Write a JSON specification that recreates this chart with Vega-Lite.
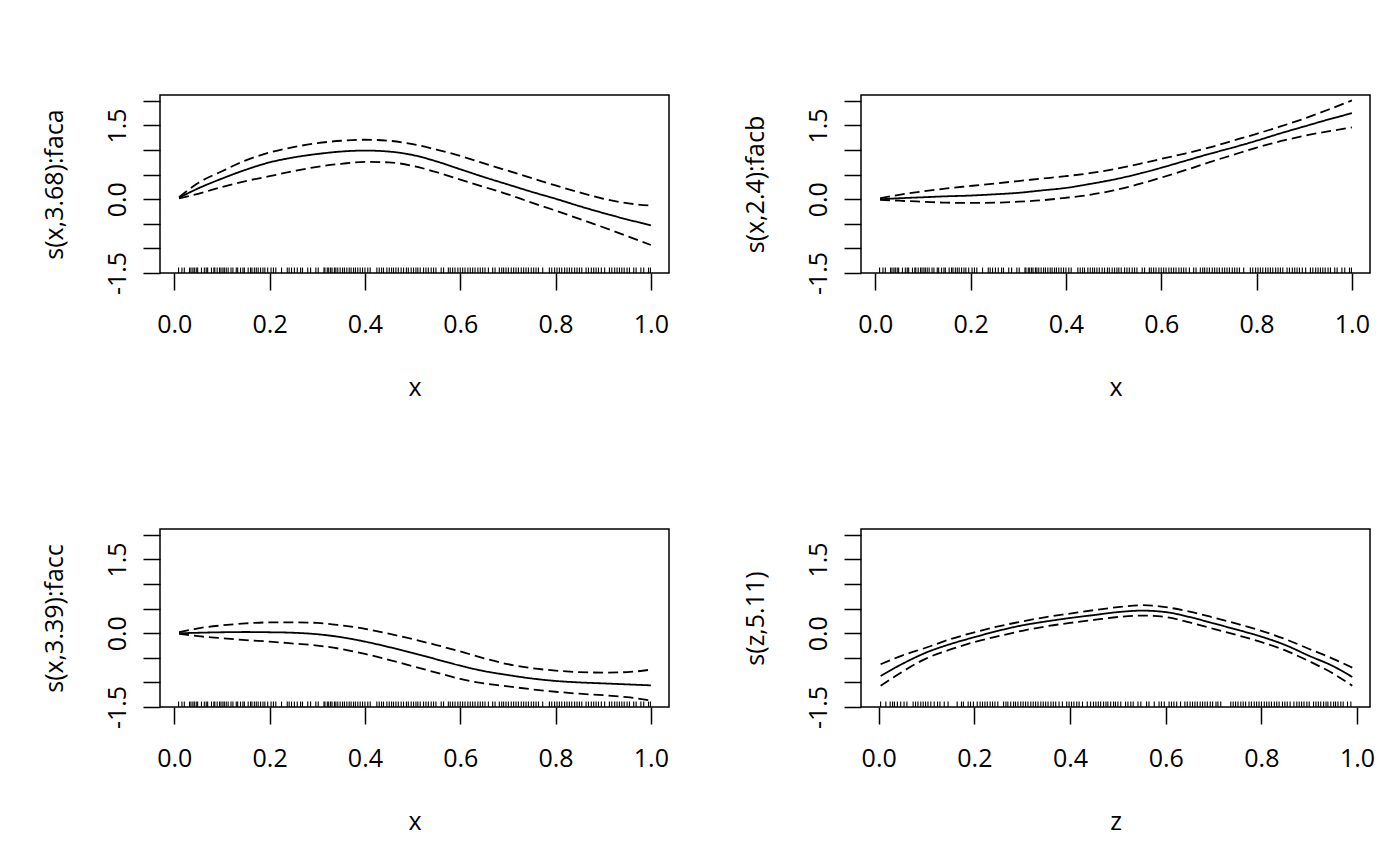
{
  "$schema": "https://vega.github.io/schema/vega-lite/v6.json",
  "padding": {"left": 41, "top": 94, "right": 0, "bottom": 0},
  "background": "white",
  "datasets": {
    "curves": [
      {"p": "a", "x": 0.01, "fit": 0.03, "upper": 0.04, "lower": 0.02},
      {"p": "a", "x": 0.05, "fit": 0.22, "upper": 0.33, "lower": 0.11},
      {"p": "a", "x": 0.1, "fit": 0.42, "upper": 0.57, "lower": 0.25},
      {"p": "a", "x": 0.15, "fit": 0.6, "upper": 0.79, "lower": 0.37},
      {"p": "a", "x": 0.2, "fit": 0.75, "upper": 0.95, "lower": 0.47},
      {"p": "a", "x": 0.25, "fit": 0.85, "upper": 1.06, "lower": 0.57},
      {"p": "a", "x": 0.3, "fit": 0.92, "upper": 1.14, "lower": 0.66},
      {"p": "a", "x": 0.35, "fit": 0.97, "upper": 1.19, "lower": 0.72},
      {"p": "a", "x": 0.4, "fit": 0.99, "upper": 1.21, "lower": 0.76},
      {"p": "a", "x": 0.45, "fit": 0.97, "upper": 1.19, "lower": 0.75},
      {"p": "a", "x": 0.5, "fit": 0.9, "upper": 1.12, "lower": 0.68},
      {"p": "a", "x": 0.55, "fit": 0.77, "upper": 1.01, "lower": 0.55},
      {"p": "a", "x": 0.6, "fit": 0.61, "upper": 0.88, "lower": 0.4},
      {"p": "a", "x": 0.65, "fit": 0.45, "upper": 0.73, "lower": 0.25},
      {"p": "a", "x": 0.7, "fit": 0.3, "upper": 0.58, "lower": 0.1},
      {"p": "a", "x": 0.75, "fit": 0.15, "upper": 0.43, "lower": -0.07},
      {"p": "a", "x": 0.8, "fit": 0.01, "upper": 0.28, "lower": -0.23},
      {"p": "a", "x": 0.85, "fit": -0.14, "upper": 0.14, "lower": -0.4},
      {"p": "a", "x": 0.9, "fit": -0.28, "upper": 0.01, "lower": -0.57},
      {"p": "a", "x": 0.95, "fit": -0.41, "upper": -0.08, "lower": -0.75},
      {"p": "a", "x": 1.0, "fit": -0.53, "upper": -0.13, "lower": -0.93},
      {"p": "b", "x": 0.01, "fit": 0.0, "upper": 0.02, "lower": -0.01},
      {"p": "b", "x": 0.05, "fit": 0.02, "upper": 0.09, "lower": -0.03},
      {"p": "b", "x": 0.1, "fit": 0.04, "upper": 0.16, "lower": -0.05},
      {"p": "b", "x": 0.15, "fit": 0.06, "upper": 0.22, "lower": -0.07},
      {"p": "b", "x": 0.2, "fit": 0.075, "upper": 0.27, "lower": -0.075},
      {"p": "b", "x": 0.25, "fit": 0.1, "upper": 0.32, "lower": -0.07},
      {"p": "b", "x": 0.3, "fit": 0.13, "upper": 0.37, "lower": -0.05},
      {"p": "b", "x": 0.35, "fit": 0.18, "upper": 0.42, "lower": -0.02},
      {"p": "b", "x": 0.4, "fit": 0.23, "upper": 0.47, "lower": 0.03},
      {"p": "b", "x": 0.45, "fit": 0.31, "upper": 0.53, "lower": 0.09},
      {"p": "b", "x": 0.5, "fit": 0.4, "upper": 0.61, "lower": 0.18},
      {"p": "b", "x": 0.55, "fit": 0.51, "upper": 0.71, "lower": 0.3},
      {"p": "b", "x": 0.6, "fit": 0.64, "upper": 0.82, "lower": 0.44},
      {"p": "b", "x": 0.65, "fit": 0.78, "upper": 0.93, "lower": 0.59},
      {"p": "b", "x": 0.7, "fit": 0.92, "upper": 1.05, "lower": 0.75},
      {"p": "b", "x": 0.75, "fit": 1.05, "upper": 1.19, "lower": 0.9},
      {"p": "b", "x": 0.8, "fit": 1.19, "upper": 1.33, "lower": 1.05},
      {"p": "b", "x": 0.85, "fit": 1.34, "upper": 1.48, "lower": 1.18},
      {"p": "b", "x": 0.9, "fit": 1.48, "upper": 1.64, "lower": 1.29},
      {"p": "b", "x": 0.95, "fit": 1.62, "upper": 1.82, "lower": 1.38},
      {"p": "b", "x": 1.0, "fit": 1.75, "upper": 2.01, "lower": 1.46},
      {"p": "c", "x": 0.01, "fit": 0.0, "upper": 0.02, "lower": -0.01},
      {"p": "c", "x": 0.05, "fit": 0.01, "upper": 0.1, "lower": -0.06},
      {"p": "c", "x": 0.1, "fit": 0.02, "upper": 0.16, "lower": -0.1},
      {"p": "c", "x": 0.15, "fit": 0.025, "upper": 0.2, "lower": -0.14},
      {"p": "c", "x": 0.2, "fit": 0.02, "upper": 0.22, "lower": -0.17},
      {"p": "c", "x": 0.25, "fit": 0.01, "upper": 0.22, "lower": -0.21},
      {"p": "c", "x": 0.3, "fit": -0.02, "upper": 0.21, "lower": -0.25},
      {"p": "c", "x": 0.35, "fit": -0.08, "upper": 0.16, "lower": -0.32},
      {"p": "c", "x": 0.4, "fit": -0.17, "upper": 0.09, "lower": -0.42},
      {"p": "c", "x": 0.45, "fit": -0.28, "upper": -0.01, "lower": -0.54},
      {"p": "c", "x": 0.5, "fit": -0.4, "upper": -0.12, "lower": -0.67},
      {"p": "c", "x": 0.55, "fit": -0.53, "upper": -0.24, "lower": -0.8},
      {"p": "c", "x": 0.6, "fit": -0.66, "upper": -0.37, "lower": -0.93},
      {"p": "c", "x": 0.65, "fit": -0.77, "upper": -0.51, "lower": -1.02},
      {"p": "c", "x": 0.7, "fit": -0.85, "upper": -0.63, "lower": -1.08},
      {"p": "c", "x": 0.75, "fit": -0.92, "upper": -0.71, "lower": -1.14},
      {"p": "c", "x": 0.8, "fit": -0.97, "upper": -0.76, "lower": -1.19},
      {"p": "c", "x": 0.85, "fit": -1.0, "upper": -0.79, "lower": -1.23},
      {"p": "c", "x": 0.9, "fit": -1.02, "upper": -0.8, "lower": -1.26},
      {"p": "c", "x": 0.95, "fit": -1.04, "upper": -0.79, "lower": -1.3},
      {"p": "c", "x": 1.0, "fit": -1.06, "upper": -0.74, "lower": -1.37},
      {"p": "d", "x": 0.004, "fit": -0.87, "upper": -0.63, "lower": -1.07},
      {"p": "d", "x": 0.05, "fit": -0.62, "upper": -0.45, "lower": -0.78},
      {"p": "d", "x": 0.1, "fit": -0.39, "upper": -0.29, "lower": -0.51},
      {"p": "d", "x": 0.15, "fit": -0.22, "upper": -0.12, "lower": -0.33},
      {"p": "d", "x": 0.2, "fit": -0.08, "upper": 0.02, "lower": -0.18},
      {"p": "d", "x": 0.25, "fit": 0.05, "upper": 0.14, "lower": -0.06},
      {"p": "d", "x": 0.3, "fit": 0.16, "upper": 0.24, "lower": 0.05},
      {"p": "d", "x": 0.35, "fit": 0.24, "upper": 0.33, "lower": 0.14},
      {"p": "d", "x": 0.4, "fit": 0.31, "upper": 0.4, "lower": 0.21},
      {"p": "d", "x": 0.45, "fit": 0.37, "upper": 0.47, "lower": 0.27},
      {"p": "d", "x": 0.5, "fit": 0.43, "upper": 0.53, "lower": 0.33},
      {"p": "d", "x": 0.55, "fit": 0.46, "upper": 0.57, "lower": 0.36},
      {"p": "d", "x": 0.6, "fit": 0.43, "upper": 0.53, "lower": 0.33},
      {"p": "d", "x": 0.65, "fit": 0.33, "upper": 0.44, "lower": 0.22},
      {"p": "d", "x": 0.7, "fit": 0.2, "upper": 0.32, "lower": 0.09},
      {"p": "d", "x": 0.75, "fit": 0.07, "upper": 0.19, "lower": -0.04},
      {"p": "d", "x": 0.8, "fit": -0.07, "upper": 0.05, "lower": -0.18},
      {"p": "d", "x": 0.85, "fit": -0.24, "upper": -0.12, "lower": -0.35},
      {"p": "d", "x": 0.9, "fit": -0.46, "upper": -0.32, "lower": -0.57},
      {"p": "d", "x": 0.95, "fit": -0.67, "upper": -0.52, "lower": -0.82},
      {"p": "d", "x": 0.99, "fit": -0.89, "upper": -0.7, "lower": -1.07}
    ],
    "rugx": [
      {"x": 0.009}, {"x": 0.016}, {"x": 0.021}, {"x": 0.032}, {"x": 0.035}, {"x": 0.039}, {"x": 0.042}, {"x": 0.046}, {"x": 0.049}, {"x": 0.057},
      {"x": 0.063}, {"x": 0.067}, {"x": 0.07}, {"x": 0.078}, {"x": 0.083}, {"x": 0.085}, {"x": 0.09}, {"x": 0.095}, {"x": 0.098}, {"x": 0.102},
      {"x": 0.105}, {"x": 0.109}, {"x": 0.113}, {"x": 0.119}, {"x": 0.123}, {"x": 0.13}, {"x": 0.133}, {"x": 0.139}, {"x": 0.144}, {"x": 0.147},
      {"x": 0.155}, {"x": 0.16}, {"x": 0.163}, {"x": 0.168}, {"x": 0.172}, {"x": 0.176}, {"x": 0.181}, {"x": 0.186}, {"x": 0.19}, {"x": 0.196},
      {"x": 0.203}, {"x": 0.208}, {"x": 0.213}, {"x": 0.225}, {"x": 0.237}, {"x": 0.241}, {"x": 0.246}, {"x": 0.252}, {"x": 0.258}, {"x": 0.265},
      {"x": 0.269}, {"x": 0.28}, {"x": 0.286}, {"x": 0.297}, {"x": 0.302}, {"x": 0.314}, {"x": 0.316}, {"x": 0.321}, {"x": 0.324}, {"x": 0.328},
      {"x": 0.331}, {"x": 0.336}, {"x": 0.339}, {"x": 0.343}, {"x": 0.348}, {"x": 0.353}, {"x": 0.357}, {"x": 0.362}, {"x": 0.367}, {"x": 0.371},
      {"x": 0.376}, {"x": 0.38}, {"x": 0.385}, {"x": 0.39}, {"x": 0.395}, {"x": 0.4}, {"x": 0.406}, {"x": 0.411}, {"x": 0.425}, {"x": 0.43},
      {"x": 0.435}, {"x": 0.439}, {"x": 0.446}, {"x": 0.451}, {"x": 0.456}, {"x": 0.46}, {"x": 0.465}, {"x": 0.47}, {"x": 0.476}, {"x": 0.481},
      {"x": 0.487}, {"x": 0.491}, {"x": 0.497}, {"x": 0.502}, {"x": 0.507}, {"x": 0.511}, {"x": 0.516}, {"x": 0.523}, {"x": 0.528}, {"x": 0.533},
      {"x": 0.539}, {"x": 0.544}, {"x": 0.549}, {"x": 0.56}, {"x": 0.565}, {"x": 0.575}, {"x": 0.579}, {"x": 0.584}, {"x": 0.589}, {"x": 0.595},
      {"x": 0.6}, {"x": 0.605}, {"x": 0.61}, {"x": 0.616}, {"x": 0.621}, {"x": 0.626}, {"x": 0.631}, {"x": 0.637}, {"x": 0.642}, {"x": 0.647},
      {"x": 0.652}, {"x": 0.659}, {"x": 0.668}, {"x": 0.673}, {"x": 0.682}, {"x": 0.687}, {"x": 0.691}, {"x": 0.696}, {"x": 0.701}, {"x": 0.707},
      {"x": 0.712}, {"x": 0.717}, {"x": 0.722}, {"x": 0.728}, {"x": 0.733}, {"x": 0.738}, {"x": 0.743}, {"x": 0.749}, {"x": 0.754}, {"x": 0.759},
      {"x": 0.764}, {"x": 0.773}, {"x": 0.787}, {"x": 0.792}, {"x": 0.798}, {"x": 0.803}, {"x": 0.808}, {"x": 0.813}, {"x": 0.819}, {"x": 0.824},
      {"x": 0.829}, {"x": 0.834}, {"x": 0.84}, {"x": 0.845}, {"x": 0.85}, {"x": 0.855}, {"x": 0.864}, {"x": 0.869}, {"x": 0.875}, {"x": 0.88},
      {"x": 0.885}, {"x": 0.89}, {"x": 0.896}, {"x": 0.903}, {"x": 0.913}, {"x": 0.918}, {"x": 0.924}, {"x": 0.929}, {"x": 0.934}, {"x": 0.939},
      {"x": 0.944}, {"x": 0.95}, {"x": 0.955}, {"x": 0.964}, {"x": 0.969}, {"x": 0.979}, {"x": 0.985}, {"x": 0.995}, {"x": 0.999}
    ],
    "rugz": [
      {"z": 0.004}, {"z": 0.015}, {"z": 0.024}, {"z": 0.029}, {"z": 0.033}, {"z": 0.039}, {"z": 0.046}, {"z": 0.053}, {"z": 0.059}, {"z": 0.072},
      {"z": 0.077}, {"z": 0.082}, {"z": 0.088}, {"z": 0.093}, {"z": 0.098}, {"z": 0.103}, {"z": 0.109}, {"z": 0.116}, {"z": 0.123}, {"z": 0.128},
      {"z": 0.137}, {"z": 0.145}, {"z": 0.164}, {"z": 0.173}, {"z": 0.177}, {"z": 0.187}, {"z": 0.192}, {"z": 0.198}, {"z": 0.206}, {"z": 0.212},
      {"z": 0.217}, {"z": 0.222}, {"z": 0.227}, {"z": 0.233}, {"z": 0.238}, {"z": 0.243}, {"z": 0.249}, {"z": 0.261}, {"z": 0.266}, {"z": 0.27},
      {"z": 0.276}, {"z": 0.282}, {"z": 0.286}, {"z": 0.291}, {"z": 0.297}, {"z": 0.302}, {"z": 0.307}, {"z": 0.312}, {"z": 0.318}, {"z": 0.323},
      {"z": 0.328}, {"z": 0.333}, {"z": 0.339}, {"z": 0.344}, {"z": 0.349}, {"z": 0.354}, {"z": 0.36}, {"z": 0.365}, {"z": 0.37}, {"z": 0.377},
      {"z": 0.384}, {"z": 0.393}, {"z": 0.398}, {"z": 0.403}, {"z": 0.408}, {"z": 0.414}, {"z": 0.419}, {"z": 0.426}, {"z": 0.436}, {"z": 0.443},
      {"z": 0.449}, {"z": 0.454}, {"z": 0.459}, {"z": 0.464}, {"z": 0.47}, {"z": 0.475}, {"z": 0.479}, {"z": 0.485}, {"z": 0.491}, {"z": 0.495},
      {"z": 0.5}, {"z": 0.506}, {"z": 0.516}, {"z": 0.521}, {"z": 0.527}, {"z": 0.532}, {"z": 0.542}, {"z": 0.548}, {"z": 0.56}, {"z": 0.565},
      {"z": 0.576}, {"z": 0.586}, {"z": 0.591}, {"z": 0.597}, {"z": 0.607}, {"z": 0.612}, {"z": 0.617}, {"z": 0.623}, {"z": 0.631}, {"z": 0.64},
      {"z": 0.645}, {"z": 0.651}, {"z": 0.656}, {"z": 0.661}, {"z": 0.666}, {"z": 0.672}, {"z": 0.677}, {"z": 0.682}, {"z": 0.687}, {"z": 0.693},
      {"z": 0.698}, {"z": 0.705}, {"z": 0.709}, {"z": 0.715}, {"z": 0.736}, {"z": 0.741}, {"z": 0.746}, {"z": 0.751}, {"z": 0.757}, {"z": 0.762},
      {"z": 0.767}, {"z": 0.774}, {"z": 0.779}, {"z": 0.785}, {"z": 0.79}, {"z": 0.795}, {"z": 0.8}, {"z": 0.806}, {"z": 0.811}, {"z": 0.816},
      {"z": 0.821}, {"z": 0.827}, {"z": 0.832}, {"z": 0.837}, {"z": 0.844}, {"z": 0.849}, {"z": 0.854}, {"z": 0.86}, {"z": 0.868}, {"z": 0.874},
      {"z": 0.879}, {"z": 0.884}, {"z": 0.889}, {"z": 0.895}, {"z": 0.9}, {"z": 0.909}, {"z": 0.914}, {"z": 0.919}, {"z": 0.924}, {"z": 0.93},
      {"z": 0.935}, {"z": 0.939}, {"z": 0.945}, {"z": 0.951}, {"z": 0.955}, {"z": 0.96}, {"z": 0.966}, {"z": 0.971}, {"z": 0.98}, {"z": 0.987}
    ]
  },
  "columns": 2,
  "bounds": "flush",
  "spacing": {"row": 256, "column": 192},
  "concat": [
    {
      "width": 509,
      "height": 178,
      "layer": [
        {
          "data": {"name": "curves"},
          "transform": [
            {"filter": "datum.p == 'a'"},
            {"fold": ["fit", "upper", "lower"], "as": ["series", "value"]}
          ],
          "mark": {"type": "line", "color": "black", "strokeWidth": 1.8, "interpolate": "monotone"},
          "encoding": {
            "x": {"field": "x", "type": "quantitative", "scale": {"domain": [-0.03, 1.038], "nice": false, "zero": false},
                  "axis": {"title": "x", "values": [0, 0.2, 0.4, 0.6, 0.8, 1], "tickCount": 20, "format": ".1f"}},
            "y": {"field": "value", "type": "quantitative", "scale": {"domain": [-1.5, 2.12], "nice": false, "zero": false},
                  "axis": {"title": "s(x,3.68):faca", "values": [-1.5, -1, -0.5, 0, 0.5, 1, 1.5, 2], "tickCount": 20,
                           "labelExpr": "datum.value == -1.5 ? '-1.5' : (datum.value == 0 ? '0.0' : (datum.value == 1.5 ? '1.5' : ''))"}},
            "strokeDash": {"field": "series", "type": "nominal", "scale": {"domain": ["fit", "upper", "lower"], "range": [[1, 0], [10, 5], [10, 5]]}, "legend": null}
          }
        },
        {
          "data": {"name": "rugx"},
          "mark": {"type": "rule", "color": "black", "strokeWidth": 1.1},
          "encoding": {
            "x": {"field": "x", "type": "quantitative"},
            "y": {"datum": -1.5},
            "y2": {"datum": -1.39}
          }
        }
      ]
    },
    {
      "width": 509,
      "height": 178,
      "layer": [
        {
          "data": {"name": "curves"},
          "transform": [
            {"filter": "datum.p == 'b'"},
            {"fold": ["fit", "upper", "lower"], "as": ["series", "value"]}
          ],
          "mark": {"type": "line", "color": "black", "strokeWidth": 1.8, "interpolate": "monotone"},
          "encoding": {
            "x": {"field": "x", "type": "quantitative", "scale": {"domain": [-0.03, 1.038], "nice": false, "zero": false},
                  "axis": {"title": "x", "values": [0, 0.2, 0.4, 0.6, 0.8, 1], "tickCount": 20, "format": ".1f"}},
            "y": {"field": "value", "type": "quantitative", "scale": {"domain": [-1.5, 2.12], "nice": false, "zero": false},
                  "axis": {"title": "s(x,2.4):facb", "values": [-1.5, -1, -0.5, 0, 0.5, 1, 1.5, 2], "tickCount": 20,
                           "labelExpr": "datum.value == -1.5 ? '-1.5' : (datum.value == 0 ? '0.0' : (datum.value == 1.5 ? '1.5' : ''))"}},
            "strokeDash": {"field": "series", "type": "nominal", "scale": {"domain": ["fit", "upper", "lower"], "range": [[1, 0], [10, 5], [10, 5]]}, "legend": null}
          }
        },
        {
          "data": {"name": "rugx"},
          "mark": {"type": "rule", "color": "black", "strokeWidth": 1.1},
          "encoding": {
            "x": {"field": "x", "type": "quantitative"},
            "y": {"datum": -1.5},
            "y2": {"datum": -1.39}
          }
        }
      ]
    },
    {
      "width": 509,
      "height": 178,
      "layer": [
        {
          "data": {"name": "curves"},
          "transform": [
            {"filter": "datum.p == 'c'"},
            {"fold": ["fit", "upper", "lower"], "as": ["series", "value"]}
          ],
          "mark": {"type": "line", "color": "black", "strokeWidth": 1.8, "interpolate": "monotone"},
          "encoding": {
            "x": {"field": "x", "type": "quantitative", "scale": {"domain": [-0.03, 1.038], "nice": false, "zero": false},
                  "axis": {"title": "x", "values": [0, 0.2, 0.4, 0.6, 0.8, 1], "tickCount": 20, "format": ".1f"}},
            "y": {"field": "value", "type": "quantitative", "scale": {"domain": [-1.5, 2.12], "nice": false, "zero": false},
                  "axis": {"title": "s(x,3.39):facc", "values": [-1.5, -1, -0.5, 0, 0.5, 1, 1.5, 2], "tickCount": 20,
                           "labelExpr": "datum.value == -1.5 ? '-1.5' : (datum.value == 0 ? '0.0' : (datum.value == 1.5 ? '1.5' : ''))"}},
            "strokeDash": {"field": "series", "type": "nominal", "scale": {"domain": ["fit", "upper", "lower"], "range": [[1, 0], [10, 5], [10, 5]]}, "legend": null}
          }
        },
        {
          "data": {"name": "rugx"},
          "mark": {"type": "rule", "color": "black", "strokeWidth": 1.1},
          "encoding": {
            "x": {"field": "x", "type": "quantitative"},
            "y": {"datum": -1.5},
            "y2": {"datum": -1.39}
          }
        }
      ]
    },
    {
      "width": 509,
      "height": 178,
      "layer": [
        {
          "data": {"name": "curves"},
          "transform": [
            {"filter": "datum.p == 'd'"},
            {"fold": ["fit", "upper", "lower"], "as": ["series", "value"]}
          ],
          "mark": {"type": "line", "color": "black", "strokeWidth": 1.8, "interpolate": "monotone"},
          "encoding": {
            "x": {"field": "x", "type": "quantitative", "scale": {"domain": [-0.037, 1.027], "nice": false, "zero": false},
                  "axis": {"title": "z", "values": [0, 0.2, 0.4, 0.6, 0.8, 1], "tickCount": 20, "format": ".1f"}},
            "y": {"field": "value", "type": "quantitative", "scale": {"domain": [-1.5, 2.12], "nice": false, "zero": false},
                  "axis": {"title": "s(z,5.11)", "values": [-1.5, -1, -0.5, 0, 0.5, 1, 1.5, 2], "tickCount": 20,
                           "labelExpr": "datum.value == -1.5 ? '-1.5' : (datum.value == 0 ? '0.0' : (datum.value == 1.5 ? '1.5' : ''))"}},
            "strokeDash": {"field": "series", "type": "nominal", "scale": {"domain": ["fit", "upper", "lower"], "range": [[1, 0], [10, 5], [10, 5]]}, "legend": null}
          }
        },
        {
          "data": {"name": "rugz"},
          "mark": {"type": "rule", "color": "black", "strokeWidth": 1.1},
          "encoding": {
            "x": {"field": "z", "type": "quantitative"},
            "y": {"datum": -1.5},
            "y2": {"datum": -1.39}
          }
        }
      ]
    }
  ],
  "config": {
    "font": "Open Sans",
    "view": {"stroke": "black", "strokeWidth": 1.5},
    "axis": {
      "grid": false,
      "domain": false,
      "tickColor": "black",
      "tickWidth": 1.5,
      "tickSize": 17,
      "labelColor": "black",
      "labelFont": "Open Sans",
      "labelFontSize": 25,
      "labelOverlap": false,
      "labelFlush": false,
      "labelBound": false,
      "titleColor": "black",
      "titleFont": "Open Sans",
      "titleFontSize": 25,
      "titleFontWeight": "normal"
    },
    "axisX": {
      "labelBaseline": "alphabetic",
      "labelPadding": 42,
      "titleY": 122,
      "titleBaseline": "alphabetic"
    },
    "axisY": {
      "labelAngle": -90,
      "labelAlign": "center",
      "labelBaseline": "alphabetic",
      "labelPadding": 18,
      "titleX": -106,
      "titleBaseline": "middle",
      "titleAlign": "center"
    }
  }
}
